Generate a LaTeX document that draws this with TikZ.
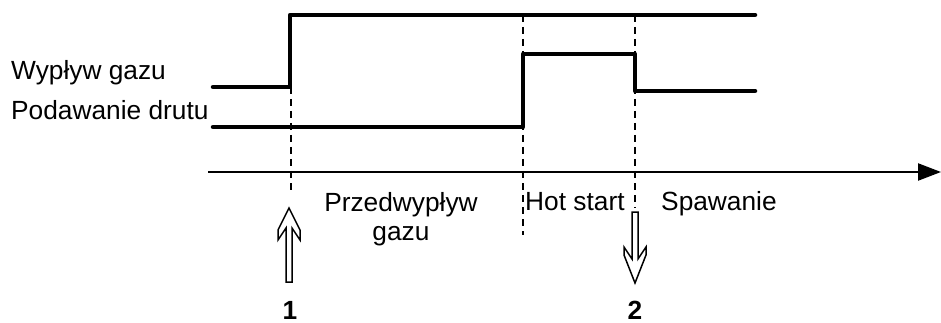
\documentclass[tikz,border=0pt]{standalone}
\usepackage{fontspec}
\setmainfont{Liberation Sans}
\usetikzlibrary{arrows.meta}
\begin{document}
\begin{tikzpicture}[x=1pt,y=-1pt,
  signal/.style={line width=4.5pt,line cap=round,line join=round},
  marker/.style={line width=2.2pt,dash pattern=on 7pt off 5pt},
  axisline/.style={line width=2.2pt,-{Triangle[length=23pt,width=17pt]}},
  hollowarrow/.style={line width=1.5pt,line join=miter,fill=white},
  lbl/.style={inner sep=0pt,font=\fontsize{26.3}{30}\selectfont},
  num/.style={inner sep=0pt,font=\fontsize{26.3}{30}\selectfont\bfseries}]
\useasboundingbox (0,0) rectangle (941,323);
% time points
\coordinate (t1top) at (291,15);
\coordinate (t1bot) at (291,190);
\coordinate (t2top) at (523,15);
\coordinate (t2bot) at (523,235);
\coordinate (t3top) at (635,15);
\coordinate (t3bot) at (635,208);
% dashed markers
\draw[marker] (t1top) -- (t1bot);
\draw[marker] (t2top) -- (t2bot);
\draw[marker] (t3top) -- (t3bot);
% time axis
\coordinate (ax0) at (208,172);
\coordinate (ax1) at (941,172);
\draw[axisline] (ax0) -- (ax1);
% gas flow signal
\coordinate (g0) at (213,87);
\coordinate (g1) at (290,87);
\coordinate (g2) at (290,15);
\coordinate (g3) at (755,15);
\draw[signal] (g0) -- (g1) -- (g2) -- (g3);
% wire feed signal
\coordinate (w0) at (213,127);
\coordinate (w1) at (523,127);
\coordinate (w2) at (523,54);
\coordinate (w3) at (635,54);
\coordinate (w4) at (635,91);
\coordinate (w5) at (755,91);
\draw[signal] (w0) -- (w1) -- (w2) -- (w3) -- (w4) -- (w5);
% labels
\node[lbl,anchor=base west] (lgas) at (11,80) {Wypływ gazu};
\node[lbl,anchor=base west] (lwire) at (11,120) {Podawanie drutu};
\node[lbl,anchor=base] (lpre1) at (401,211) {Przedwypływ};
\node[lbl,anchor=base] (lpre2) at (401,240) {gazu};
\node[lbl,anchor=base west] (lhot) at (525,210) {Hot start};
\node[lbl,anchor=base west] (lspaw) at (661,210) {Spawanie};
% hollow arrows
\coordinate (a1) at (289,208);
\draw[hollowarrow] (a1) -- ++(11,22) -- ++(0,10) -- ++(-8,-12) -- ++(0,54)
  -- ++(-6,0) -- ++(0,-54) -- ++(-8,12) -- ++(0,-10) -- cycle;
\coordinate (a2) at (635,283);
\draw[hollowarrow] (a2) -- ++(11,-28) -- ++(0,-8) -- ++(-8,12) -- ++(0,-47)
  -- ++(-6,0) -- ++(0,47) -- ++(-8,-12) -- ++(0,8) -- cycle;
\node[num,anchor=base] (n1) at (290,319) {1};
\node[num,anchor=base] (n2) at (635,319) {2};
\end{tikzpicture}
\end{document}
